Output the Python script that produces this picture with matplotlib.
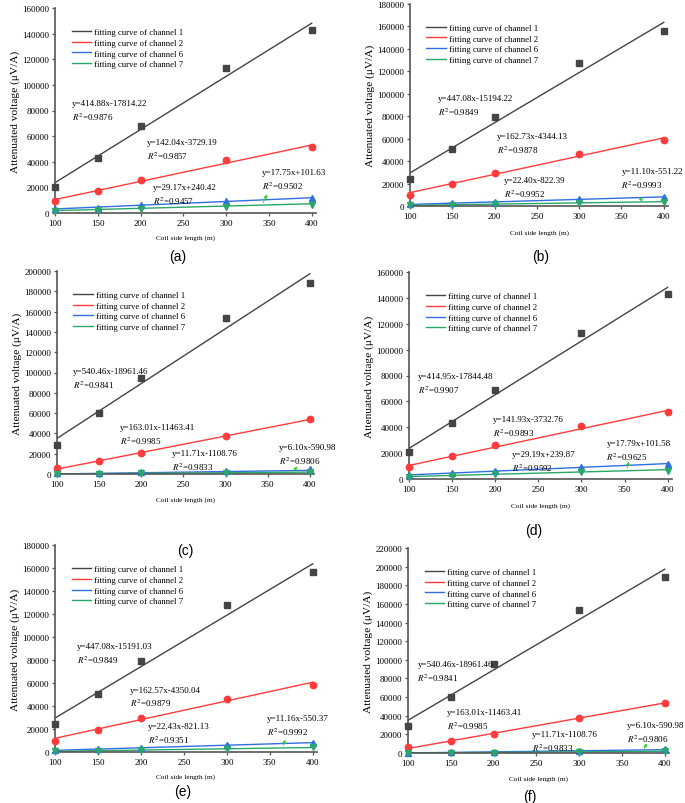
import matplotlib
matplotlib.use("Agg")
import matplotlib.pyplot as plt
import numpy as np

plt.rcParams["font.family"] = "Liberation Serif"
plt.rcParams["mathtext.fontset"] = "stix"

coil_length = [100, 150, 200, 300, 400]
channel_names = ["fitting curve of channel 1", "fitting curve of channel 2",
                 "fitting curve of channel 6", "fitting curve of channel 7"]
line_colors = ["#444444", "#ff3b3b", "#2f6fe0", "#2aa869"]
markers = ["s", "o", "^", "v"]

# panel (a)
a_ch1 = [20000, 43000, 68000, 113000, 143000]
a_ch2 = [9000, 17000, 26000, 41000, 51500]
a_ch6 = [3000, 4000, 6000, 9000, 11500]
a_ch7 = [1500, 2500, 3500, 5000, 6500]
a_slope = [414.88, 142.04, 29.17, 17.75]
a_intercept = [-17814.22, -3729.19, 240.42, 101.63]
a_r2 = [0.9876, 0.9857, 0.9457, 0.9502]

# panel (b)
b_ch1 = [24000, 50500, 79000, 127000, 156000]
b_ch2 = [10000, 19500, 29500, 46500, 58500]
b_ch6 = [1500, 2500, 3500, 6000, 8000]
b_ch7 = [500, 1000, 1500, 3000, 4000]
b_slope = [447.08, 162.73, 22.40, 11.10]
b_intercept = [-15194.22, -4344.13, -822.39, -551.22]
b_r2 = [0.9849, 0.9878, 0.9952, 0.9993]

# panel (c)
c_ch1 = [29000, 60500, 95000, 154000, 188000]
c_ch2 = [6000, 12500, 20500, 37500, 54000]
c_ch6 = [500, 1000, 1500, 2500, 4500]
c_ch7 = [0, 200, 500, 1200, 2000]
c_slope = [540.46, 163.01, 11.71, 6.10]
c_intercept = [-18961.46, -11463.41, -1108.76, -590.98]
c_r2 = [0.9841, 0.9985, 0.9833, 0.9806]

# panel (d)
d_ch1 = [20500, 43500, 68500, 113000, 143000]
d_ch2 = [9000, 17500, 26000, 41000, 51500]
d_ch6 = [3000, 4500, 6500, 9500, 11500]
d_ch7 = [1500, 2500, 3500, 5500, 6500]
d_slope = [414.95, 141.93, 29.19, 17.79]
d_intercept = [-17844.48, -3732.76, 239.87, 101.58]
d_r2 = [0.9907, 0.9893, 0.9592, 0.9625]

# panel (e)
e_ch1 = [24000, 50500, 79500, 127500, 156500]
e_ch2 = [10000, 19500, 29500, 46500, 58500]
e_ch6 = [1500, 2500, 3500, 6000, 8000]
e_ch7 = [500, 1000, 1500, 3000, 4000]
e_slope = [447.08, 162.57, 22.43, 11.16]
e_intercept = [-15191.03, -4350.04, -821.13, -550.37]
e_r2 = [0.9849, 0.9879, 0.9351, 0.9992]

# panel (f)
f_ch1 = [29000, 60500, 95000, 154000, 188500]
f_ch2 = [6000, 12500, 20500, 37500, 54000]
f_ch6 = [500, 1000, 1500, 2500, 4500]
f_ch7 = [0, 200, 500, 1200, 2000]
f_slope = [540.46, 163.01, 11.71, 6.10]
f_intercept = [-18961.46, -11463.41, -1108.76, -590.98]
f_r2 = [0.9841, 0.9985, 0.9833, 0.9806]

W, H = 685, 804
fig = plt.figure(figsize=(W / 100, H / 100), dpi=100)


def draw_panel(rect, series, slopes, intercepts, r2, ymax, text_xy, arrow,
               xlab_y, letter, letter_xy):
    left, top, width, height = rect
    ax = fig.add_axes([left / W, 1 - (top + height) / H, width / W, height / H])
    xs = np.array([100, 400])
    for i in range(4):
        ax.plot(xs, slopes[i] * xs + intercepts[i], color=line_colors[i],
                lw=1.0, label=channel_names[i], zorder=2)
        ax.plot(coil_length, series[i], ls="none", marker=markers[i],
                color=line_colors[i], ms=4.6, clip_on=False, zorder=3)
    for i in range(4):
        tx, ty = text_xy[i]
        ax.text(tx, ty, f"y={slopes[i]:.2f}x{intercepts[i]:+.2f}",
                fontsize=6.5, va="center", ha="left", clip_on=False)
        ax.annotate(f"$R^2$={r2[i]:.4f}", xy=(tx, ty), xytext=(0, -9.5),
                    textcoords="offset points", fontsize=6.5, va="center",
                    ha="left", annotation_clip=False)
    tail_x, head_x, head_y = arrow
    ax.annotate("", xy=(head_x, head_y),
                xytext=(tail_x, slopes[3] * tail_x + intercepts[3]),
                arrowprops=dict(arrowstyle="-|>", color="#33cc33", lw=0.6,
                                mutation_scale=5))
    ax.set_xlim(100, 405)
    ax.set_ylim(0, ymax)
    ax.set_xticks([100, 150, 200, 250, 300, 350, 400])
    ax.set_yticks(np.arange(0, ymax + 1, 20000))
    for s in ["top", "right"]:
        ax.spines[s].set_visible(False)
    for s in ["left", "bottom"]:
        ax.spines[s].set_color("#555555")
        ax.spines[s].set_linewidth(1.2)
    ax.tick_params(direction="out", length=2.5, width=0.9, color="#555555",
                   labelsize=6.5, pad=1.5)
    ax.set_ylabel("Attenuated voltage (μV/A)", fontsize=8.2, labelpad=2)
    ax.legend(loc="upper left", bbox_to_anchor=(0.05, 0.92), frameon=False,
              fontsize=6.3, handlelength=2.2, handletextpad=0.4,
              labelspacing=0.3, borderaxespad=0)
    fig.text((left + width / 2) / W, 1 - xlab_y / H, "Coil side length (m)",
             fontsize=5.2, ha="center", va="center")
    fig.text(letter_xy[0] / W, 1 - letter_xy[1] / H, letter,
             family="Liberation Sans", fontsize=10, ha="center", va="center")


draw_panel((55, 9, 261, 205), [a_ch1, a_ch2, a_ch6, a_ch7], a_slope, a_intercept,
           a_r2, 160000, [(120, 86000), (207, 55400), (214, 20300), (342, 32000)],
           (342, 349, 16400), 238, "(a)", (178, 257))
draw_panel((410, 5, 258, 202), [b_ch1, b_ch2, b_ch6, b_ch7], b_slope, b_intercept,
           b_r2, 180000, [(133, 96000), (203, 62000), (211, 22800), (350, 30900)],
           (371, 377, 10000), 233, "(b)", (541, 257))
draw_panel((57, 272, 257, 203), [c_ch1, c_ch2, c_ch6, c_ch7], c_slope, c_intercept,
           c_r2, 200000, [(119, 101300), (175, 46400), (236, 20700), (363, 26300)],
           (381, 386, 10000), 500, "(c)", (185, 551))
draw_panel((409, 273, 263, 207), [d_ch1, d_ch2, d_ch6, d_ch7], d_slope, d_intercept,
           d_r2, 160000, [(110, 79500), (197, 46500), (219, 19400), (329, 27600)],
           (352, 356, 15500), 506, "(d)", (534, 531))
draw_panel((55, 546, 262, 207), [e_ch1, e_ch2, e_ch6, e_ch7], e_slope, e_intercept,
           e_r2, 180000, [(126, 91900), (187, 54300), (208, 22300), (347, 29500)],
           (365, 369, 13000), 777, "(e)", (183, 792))
draw_panel((408, 549, 261, 205), [f_ch1, f_ch2, f_ch6, f_ch7], f_slope, f_intercept,
           f_r2, 220000, [(111, 95500), (146, 43600), (245, 20400), (356, 30000)],
           (375, 380, 13200), 779, "(f)", (530, 797))

fig.savefig("out.png", dpi=100)
